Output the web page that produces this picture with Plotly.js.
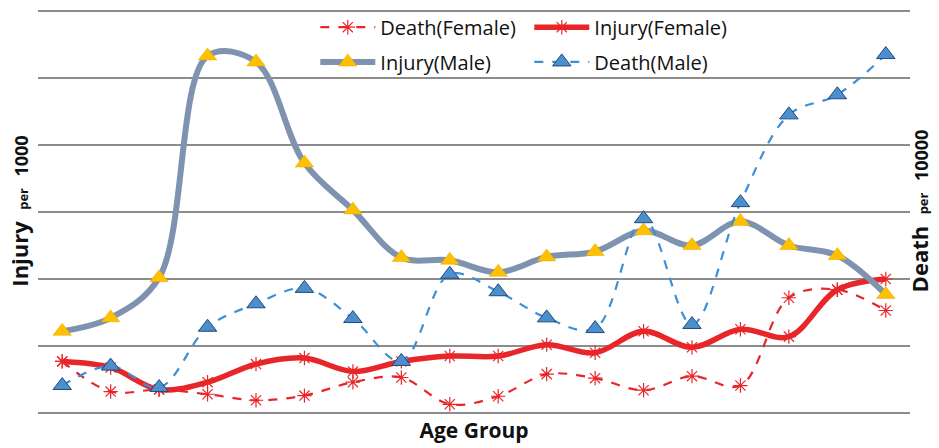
<!DOCTYPE html>
<html>
<head>
<meta charset="utf-8">
<script src="https://cdn.plot.ly/plotly-3.0.1.min.js"></script>
<style>html,body{margin:0;padding:0;background:#fff;}#chart{width:939px;height:448px;}</style>
</head>
<body>
<div id="chart"></div>
<script>
// Age groups (axis labels are not shown in the reference)
const ageGroups = ["G1","G2","G3","G4","G5","G6","G7","G8","G9","G10","G11","G12","G13","G14","G15","G16","G17","G18"];

// Values in grid units (6 equal intervals, no tick labels in the reference)
const deathFemale  = [0.77, 0.32, 0.35, 0.28, 0.19, 0.26, 0.46, 0.53, 0.13, 0.25, 0.58, 0.52, 0.34, 0.55, 0.41, 1.72, 1.84, 1.53];
const injuryFemale = [0.77, 0.68, 0.35, 0.46, 0.73, 0.82, 0.62, 0.77, 0.85, 0.85, 1.02, 0.90, 1.22, 0.98, 1.25, 1.14, 1.84, 2.00];
const injuryMale   = [1.22, 1.42, 2.02, 5.33, 5.24, 3.73, 3.03, 2.32, 2.28, 2.10, 2.33, 2.41, 2.72, 2.50, 2.86, 2.50, 2.35, 1.77];
const deathMale    = [0.41, 0.70, 0.38, 1.28, 1.63, 1.86, 1.41, 0.77, 2.07, 1.81, 1.42, 1.26, 2.90, 1.32, 3.14, 4.45, 4.75, 5.35];

const FONT = "Open Sans, Liberation Sans, sans-serif";

const traces = [
  {
    name: "Death(Female)", x: ageGroups, y: deathFemale, yaxis: "y2", legend: "legend",
    mode: "lines+markers", line: {color: "#e8262a", width: 2.2, dash: "dash", shape: "spline", smoothing: 1},
    marker: {symbol: "asterisk-open", size: 12, line: {color: "#e8262a", width: 1.2}}
  },
  {
    name: "Injury(Female)", x: ageGroups, y: injuryFemale, yaxis: "y", legend: "legend",
    mode: "lines+markers", line: {color: "#e8262a", width: 5.5, shape: "spline", smoothing: 1},
    marker: {symbol: "asterisk-open", size: 12, line: {color: "#e8262a", width: 1.2}}
  },
  {
    name: "Injury(Male)", x: ageGroups, y: injuryMale, yaxis: "y", legend: "legend2",
    mode: "lines+markers", line: {color: "#7f93b1", width: 6, shape: "spline", smoothing: 1},
    marker: {symbol: "triangle-up", size: 16, color: "#ffc000", line: {color: "#e6a800", width: 0.5}}
  },
  {
    name: "Death(Male)", x: ageGroups, y: deathMale, yaxis: "y2", legend: "legend2",
    mode: "lines+markers", line: {color: "#3d8fd8", width: 2.2, dash: "dash", shape: "spline", smoothing: 1},
    marker: {symbol: "triangle-up", size: 16, color: "#4b8fcf", line: {color: "#234a78", width: 1}}
  }
];

const legendCommon = {
  orientation: "h", xanchor: "left", yanchor: "middle",
  bgcolor: "rgba(255,255,255,0)", borderwidth: 0,
  font: {family: FONT, size: 20, color: "#111"},
  itemwidth: 55, entrywidth: 144, entrywidthmode: "pixels",
  traceorder: "normal", itemclick: false
};

const layout = {
  width: 939, height: 448,
  margin: {l: 38, r: 29, t: 9, b: 35, autoexpand: false},
  paper_bgcolor: "#ffffff", plot_bgcolor: "#ffffff",
  font: {family: FONT, color: "#111"},
  showlegend: true,
  legend: Object.assign({}, legendCommon, {x: 0.318, y: 0.955}),
  legend2: Object.assign({}, legendCommon, {x: 0.318, y: 0.869}),
  xaxis: {
    type: "category", range: [-0.5, 17.5], showticklabels: false, showgrid: false,
    zeroline: false, showline: false, ticks: "", automargin: false,
    title: {text: "<b>Age Group</b>", font: {family: FONT, size: 21, color: "#111"}, standoff: 10}
  },
  yaxis: {
    range: [0, 6.03], dtick: 1, showticklabels: false, showgrid: true, automargin: false,
    gridcolor: "#8c8c8c", gridwidth: 1.3, zeroline: true, zerolinecolor: "#8c8c8c", zerolinewidth: 1.3,
    showline: false, ticks: "",
    title: {text: "<b>Injury</b>  <span style='font-size:13px'><b>per</b></span>  <b style='font-size:18px'>1000</b>", font: {family: FONT, size: 22, color: "#111"}, standoff: 2}
  },
  yaxis2: {
    overlaying: "y", side: "right", range: [0, 6.03], dtick: 1, showticklabels: false,
    showgrid: false, zeroline: false, showline: false, ticks: "", automargin: false,
    title: {text: "<b>Death</b>  <span style='font-size:13px'><b>per</b></span>  <b style='font-size:18px'>10000</b>", font: {family: FONT, size: 22, color: "#111"}, standoff: 2}
  }
};

Plotly.newPlot("chart", traces, layout, {displayModeBar: false, staticPlot: true});
</script>
</body>
</html>
